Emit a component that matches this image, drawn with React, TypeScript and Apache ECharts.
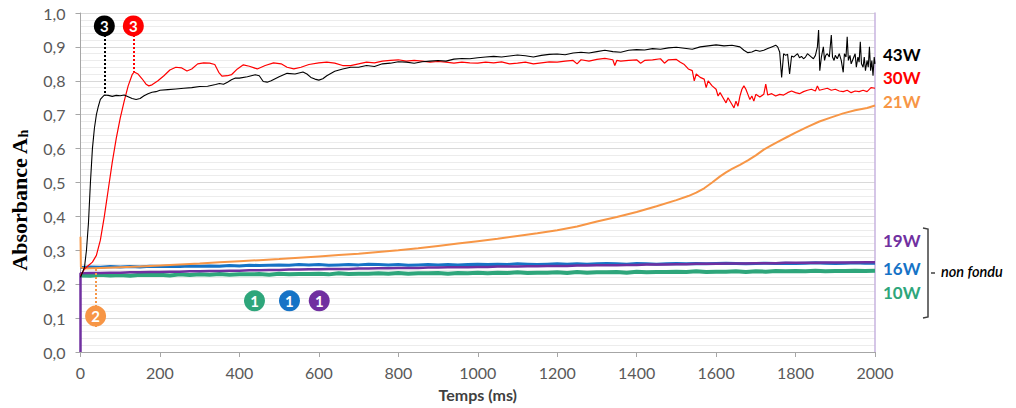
import React, { useEffect, useRef } from "react";
import * as echarts from "echarts";

// ---------- data ----------
const X_TICKS = [0, 200, 400, 600, 800, 1000, 1200, 1400, 1600, 1800, 2000];

const BLACK_43W: [number, number][] = [
  [0, 0.22], [5, 0.235], [10, 0.25], [15, 0.3], [20, 0.38], [25, 0.5], [30, 0.6], [35, 0.66], [40, 0.7], [45, 0.725],
  [50, 0.745], [55, 0.752], [60, 0.758], [70, 0.757], [80, 0.754], [90, 0.757], [100, 0.756], [110, 0.758], [120, 0.753],
  [130, 0.748], [140, 0.745], [150, 0.748], [160, 0.756], [170, 0.762], [180, 0.766], [190, 0.768], [200, 0.772],
  [220, 0.774], [240, 0.776], [260, 0.778], [280, 0.78], [300, 0.783], [320, 0.784], [340, 0.789], [350, 0.792],
  [360, 0.79], [370, 0.796], [380, 0.803], [390, 0.808], [400, 0.808], [420, 0.812], [440, 0.818], [450, 0.815],
  [460, 0.798], [470, 0.796], [480, 0.8], [500, 0.812], [520, 0.822], [540, 0.82], [550, 0.823], [560, 0.826],
  [570, 0.82], [580, 0.81], [590, 0.805], [600, 0.802], [610, 0.806], [620, 0.815], [640, 0.828], [660, 0.835],
  [680, 0.84], [700, 0.84], [720, 0.845], [740, 0.842], [760, 0.85], [780, 0.852], [800, 0.856], [820, 0.855],
  [840, 0.852], [860, 0.856], [880, 0.858], [900, 0.86], [920, 0.858], [940, 0.864], [960, 0.866], [980, 0.865],
  [1000, 0.868], [1020, 0.87], [1040, 0.872], [1060, 0.87], [1080, 0.873], [1100, 0.876], [1120, 0.874], [1140, 0.87],
  [1160, 0.875], [1180, 0.878], [1200, 0.879], [1220, 0.877], [1240, 0.882], [1260, 0.884], [1280, 0.882], [1300, 0.886],
  [1320, 0.89], [1340, 0.886], [1360, 0.884], [1380, 0.89], [1400, 0.892], [1420, 0.891], [1440, 0.895], [1460, 0.893],
  [1480, 0.897], [1500, 0.899], [1520, 0.896], [1540, 0.893], [1560, 0.9], [1580, 0.903], [1600, 0.906], [1620, 0.903],
  [1640, 0.905], [1660, 0.9], [1670, 0.89], [1680, 0.883], [1690, 0.885], [1700, 0.89], [1710, 0.887], [1720, 0.89],
  [1730, 0.895], [1740, 0.9], [1750, 0.905], [1755, 0.9], [1760, 0.885], [1765, 0.81], [1770, 0.88], [1775, 0.875],
  [1780, 0.878], [1785, 0.82], [1790, 0.873], [1795, 0.87], [1800, 0.875], [1805, 0.88], [1810, 0.868], [1815, 0.872],
  [1820, 0.865], [1825, 0.87], [1830, 0.88], [1835, 0.875], [1840, 0.87], [1845, 0.865], [1850, 0.875], [1855, 0.9],
  [1858, 0.95], [1861, 0.83], [1865, 0.87], [1870, 0.9], [1873, 0.86], [1876, 0.875], [1880, 0.88], [1885, 0.87],
  [1890, 0.935], [1893, 0.87], [1897, 0.86], [1900, 0.875], [1905, 0.865], [1910, 0.88], [1915, 0.86], [1920, 0.825],
  [1923, 0.88], [1927, 0.87], [1930, 0.93], [1933, 0.86], [1937, 0.875], [1940, 0.85], [1945, 0.865], [1950, 0.88],
  [1953, 0.84], [1957, 0.87], [1960, 0.855], [1963, 0.915], [1966, 0.85], [1970, 0.84], [1973, 0.87], [1976, 0.83],
  [1980, 0.86], [1983, 0.84], [1986, 0.9], [1989, 0.83], [1992, 0.86], [1995, 0.815], [1998, 0.87], [2000, 0.85],
];

const RED_30W: [number, number][] = [
  [0, 0.225], [5, 0.235], [10, 0.245], [20, 0.255], [30, 0.265], [40, 0.285], [50, 0.33], [60, 0.4], [70, 0.48],
  [80, 0.56], [90, 0.63], [100, 0.69], [110, 0.74], [120, 0.785], [130, 0.818], [135, 0.826], [145, 0.82], [155, 0.806],
  [165, 0.79], [172, 0.785], [180, 0.788], [195, 0.8], [210, 0.815], [225, 0.832], [240, 0.84], [255, 0.838],
  [268, 0.829], [280, 0.835], [295, 0.85], [310, 0.853], [325, 0.852], [338, 0.848], [348, 0.825], [356, 0.814],
  [370, 0.815], [380, 0.818], [395, 0.835], [410, 0.847], [425, 0.843], [445, 0.835], [465, 0.845], [486, 0.853],
  [505, 0.85], [520, 0.84], [537, 0.835], [555, 0.84], [575, 0.848], [600, 0.853], [620, 0.855], [640, 0.852],
  [660, 0.845], [680, 0.845], [700, 0.85], [720, 0.855], [740, 0.853], [760, 0.858], [780, 0.86], [800, 0.862],
  [820, 0.858], [840, 0.86], [860, 0.858], [880, 0.855], [900, 0.857], [920, 0.855], [940, 0.852], [960, 0.855],
  [980, 0.853], [1000, 0.852], [1020, 0.855], [1040, 0.853], [1060, 0.856], [1080, 0.85], [1100, 0.852], [1120, 0.855],
  [1140, 0.85], [1160, 0.853], [1180, 0.856], [1200, 0.855], [1220, 0.858], [1240, 0.86], [1250, 0.85], [1260, 0.862],
  [1280, 0.858], [1300, 0.863], [1320, 0.866], [1340, 0.862], [1345, 0.845], [1350, 0.86], [1360, 0.858], [1380, 0.86],
  [1400, 0.862], [1410, 0.852], [1420, 0.86], [1440, 0.862], [1460, 0.865], [1470, 0.852], [1480, 0.862], [1500, 0.863],
  [1510, 0.855], [1520, 0.848], [1530, 0.835], [1540, 0.83], [1545, 0.8], [1550, 0.82], [1560, 0.81], [1570, 0.805],
  [1575, 0.78], [1580, 0.8], [1590, 0.785], [1600, 0.775], [1605, 0.755], [1610, 0.765], [1620, 0.745], [1625, 0.735],
  [1630, 0.75], [1640, 0.73], [1645, 0.72], [1650, 0.74], [1655, 0.725], [1660, 0.755], [1665, 0.775], [1670, 0.785],
  [1675, 0.775], [1680, 0.76], [1685, 0.745], [1690, 0.755], [1695, 0.74], [1700, 0.76], [1710, 0.752], [1720, 0.76],
  [1725, 0.79], [1730, 0.758], [1740, 0.762], [1750, 0.755], [1760, 0.76], [1770, 0.758], [1780, 0.765], [1790, 0.77],
  [1800, 0.765], [1810, 0.762], [1820, 0.768], [1830, 0.772], [1840, 0.775], [1850, 0.77], [1855, 0.785], [1860, 0.772],
  [1870, 0.775], [1880, 0.778], [1890, 0.772], [1900, 0.775], [1910, 0.77], [1920, 0.768], [1930, 0.772], [1940, 0.765],
  [1950, 0.77], [1960, 0.768], [1970, 0.772], [1980, 0.768], [1990, 0.78], [2000, 0.778],
];

const ORANGE_21W: [number, number][] = [
  [0, 0.34], [1, 0.25], [10, 0.246], [50, 0.248], [100, 0.25], [150, 0.252], [200, 0.255], [250, 0.258], [300, 0.261],
  [350, 0.265], [400, 0.268], [450, 0.271], [500, 0.274], [550, 0.278], [600, 0.282], [650, 0.286], [700, 0.29],
  [750, 0.295], [800, 0.3], [850, 0.306], [900, 0.313], [950, 0.32], [1000, 0.327], [1050, 0.334], [1100, 0.342],
  [1150, 0.35], [1200, 0.359], [1250, 0.37], [1300, 0.385], [1350, 0.398], [1400, 0.413], [1450, 0.43], [1500, 0.448],
  [1530, 0.46], [1550, 0.47], [1570, 0.483], [1590, 0.5], [1610, 0.518], [1625, 0.53], [1640, 0.54], [1660, 0.552],
  [1680, 0.565], [1700, 0.58], [1720, 0.597], [1740, 0.61], [1760, 0.623], [1780, 0.635], [1800, 0.647], [1830, 0.664],
  [1860, 0.68], [1890, 0.692], [1920, 0.704], [1950, 0.713], [1980, 0.72], [2000, 0.727],
];

const FLAT_T = [
  0, 25, 50, 75, 100, 125, 150, 175, 200, 225,
  250, 275, 300, 325, 350, 375, 400, 425, 450, 475,
  500, 525, 550, 575, 600, 625, 650, 675, 700, 725,
  750, 775, 800, 825, 850, 875, 900, 925, 950, 975,
  1000, 1025, 1050, 1075, 1100, 1125, 1150, 1175, 1200, 1225,
  1250, 1275, 1300, 1325, 1350, 1375, 1400, 1425, 1450, 1475,
  1500, 1525, 1550, 1575, 1600, 1625, 1650, 1675, 1700, 1725,
  1750, 1775, 1800, 1825, 1850, 1875, 1900, 1925, 1950, 1975,
  2000,
];

const GREEN_10W = [
  0.226, 0.225, 0.228, 0.226, 0.227, 0.225, 0.228, 0.227, 0.228, 0.226,
  0.229, 0.227, 0.229, 0.228, 0.23, 0.228, 0.229, 0.229, 0.23, 0.228,
  0.231, 0.229, 0.23, 0.23, 0.231, 0.229, 0.232, 0.23, 0.231, 0.231,
  0.232, 0.231, 0.233, 0.231, 0.232, 0.232, 0.233, 0.231, 0.233, 0.232,
  0.234, 0.232, 0.234, 0.233, 0.235, 0.233, 0.234, 0.234, 0.235, 0.233,
  0.236, 0.234, 0.235, 0.235, 0.236, 0.234, 0.237, 0.235, 0.236, 0.236,
  0.237, 0.236, 0.238, 0.236, 0.237, 0.237, 0.238, 0.236, 0.238, 0.237,
  0.239, 0.238, 0.239, 0.238, 0.24, 0.238, 0.239, 0.239, 0.24, 0.239,
  0.24,
];

const BLUE_16W = [
  0.249, 0.251, 0.25, 0.252, 0.251, 0.252, 0.251, 0.253, 0.252, 0.253,
  0.252, 0.254, 0.253, 0.254, 0.253, 0.255, 0.254, 0.256, 0.255, 0.256,
  0.257, 0.256, 0.258, 0.257, 0.258, 0.256, 0.257, 0.258, 0.257, 0.259,
  0.258, 0.257, 0.258, 0.256, 0.257, 0.258, 0.257, 0.258, 0.257, 0.258,
  0.259, 0.258, 0.259, 0.258, 0.26, 0.259, 0.258, 0.259, 0.26, 0.259,
  0.26, 0.259, 0.26, 0.261, 0.26, 0.259, 0.261, 0.26, 0.259, 0.26,
  0.261, 0.26, 0.261, 0.26, 0.261, 0.262, 0.261, 0.26, 0.261, 0.262,
  0.261, 0.262, 0.261, 0.262, 0.263, 0.262, 0.261, 0.262, 0.263, 0.262,
  0.262,
];

const PURPLE_19W = [
  0.232, 0.233, 0.233, 0.234, 0.234, 0.235, 0.235, 0.236, 0.236, 0.237,
  0.237, 0.238, 0.238, 0.239, 0.239, 0.24, 0.24, 0.241, 0.241, 0.242,
  0.242, 0.243, 0.243, 0.244, 0.244, 0.245, 0.245, 0.245, 0.246, 0.246,
  0.247, 0.247, 0.248, 0.248, 0.248, 0.249, 0.249, 0.25, 0.25, 0.25,
  0.251, 0.251, 0.252, 0.252, 0.252, 0.253, 0.253, 0.254, 0.254, 0.254,
  0.255, 0.255, 0.256, 0.256, 0.256, 0.257, 0.257, 0.258, 0.258, 0.258,
  0.259, 0.259, 0.26, 0.26, 0.26, 0.261, 0.261, 0.261, 0.262, 0.262,
  0.262, 0.263, 0.263, 0.263, 0.263, 0.264, 0.264, 0.264, 0.264, 0.265,
  0.265,
];
const PURPLE_START: [number, number][] = [[0, 0.0]];

// annotation markers
const MARK_BLACK = { t: 60, y: 0.962, from: 0.935, to: 0.757, label: "3" };
const MARK_RED = { t: 133, y: 0.962, from: 0.935, to: 0.826, label: "3" };
const MARK_ORANGE = { t: 38, y: 0.106, from: 0.245, to: 0.072, label: "2" };
const MARK_GREEN = { t: 438, y: 0.151, label: "1" };
const MARK_BLUE = { t: 526, y: 0.151, label: "1" };
const MARK_PURPLE = { t: 601, y: 0.151, label: "1" };

const C_BLACK = "#000000";
const C_RED = "#ff0000";
const C_ORANGE = "#f79646";
const C_PURPLE = "#7030a0";
const C_BLUE = "#1673c6";
const C_GREEN = "#2ea67b";

const FONT = "Lato, 'Open Sans', sans-serif";

function zip(t: number[], v: number[]): [number, number][] {
  return t.map((x, i) => [x, v[i]]);
}

function markPoint(m: { t: number; y: number; label: string }, color: string) {
  return {
    silent: true,
    symbol: "circle",
    symbolSize: 21,
    itemStyle: { color },
    label: {
      show: true,
      position: "inside",
      formatter: m.label,
      color: "#ffffff",
      fontWeight: "bold",
      fontSize: 15,
      fontFamily: FONT,
    },
    data: [{ coord: [m.t, m.y] }],
  };
}

function markLine(m: { t: number; from: number; to: number }, color: string) {
  return {
    silent: true,
    symbol: ["none", "none"],
    label: { show: false },
    lineStyle: { color, type: "dotted", width: 2 },
    data: [[{ coord: [m.t, m.from] }, { coord: [m.t, m.to] }]],
  };
}

export default function App() {
  const ref = useRef<HTMLDivElement>(null);

  useEffect(() => {
    if (!ref.current) return;
    const chart = echarts.init(ref.current, undefined, { renderer: "svg" });

    const rightLabel = (text: string, y: number, color: string) => ({
      type: "text",
      left: 883,
      top: y - 10,
      style: { text, fill: color, font: `bold 17px ${FONT}` },
    });

    chart.setOption({
      animation: false,
      backgroundColor: "#ffffff",
      grid: { left: 80, right: 141, top: 13, bottom: 56 },
      xAxis: {
        type: "value",
        min: 0,
        max: 2000,
        interval: 200,
        name: "Temps (ms)",
        nameLocation: "middle",
        nameGap: 34,
        nameTextStyle: { fontFamily: FONT, fontWeight: "bold", fontSize: 16, color: "#404040" },
        axisLine: { show: true, lineStyle: { color: "#a6a6a6", width: 1 } },
        axisTick: { show: true, length: 5, lineStyle: { color: "#a6a6a6" } },
        axisLabel: {
          fontFamily: FONT,
          fontSize: 16,
          color: "#595959",
          margin: 12,
          customValues: X_TICKS,
          formatter: (v: number) => String(v),
        },
        splitLine: { show: false },
      },
      yAxis: [
        {
          type: "value",
          min: 0,
          max: 1,
          interval: 0.1,
          name: "{a|Absorbance A}{s|h}",
          nameLocation: "middle",
          nameGap: 50,
          nameTextStyle: {
            padding: [0, 36, 0, 0],
            rich: {
              a: { fontFamily: "'Liberation Serif', serif", fontWeight: "bold", fontSize: 22, color: "#000" },
              s: { fontFamily: "'Liberation Serif', serif", fontWeight: "bold", fontSize: 14, color: "#000", padding: [9, 0, 0, 0] },
            },
          },
          axisLine: { show: true, lineStyle: { color: "#a6a6a6", width: 1 } },
          axisTick: { show: true, length: 5, inside: false, lineStyle: { color: "#a6a6a6" } },
          axisLabel: {
            fontFamily: FONT,
            fontSize: 16,
            color: "#595959",
            margin: 15,
            formatter: (v: number) => v.toFixed(1).replace(".", ","),
          },
          splitLine: { show: true, lineStyle: { color: "#d9d9d9", width: 1 } },
          minorTick: { show: false, splitNumber: 5 },
          minorSplitLine: { show: true, lineStyle: { color: "#ececec", width: 1 } },
        },
        {
          type: "value",
          min: 0,
          max: 1,
          position: "right",
          axisLine: { show: true, lineStyle: { color: "#c7b3df", width: 1.5 } },
          axisTick: { show: false },
          axisLabel: { show: false },
          splitLine: { show: false },
        },
      ],
      series: [
        {
          name: "10W",
          type: "line",
          data: zip(FLAT_T, GREEN_10W),
          showSymbol: false,
          lineStyle: { color: C_GREEN, width: 4 },
          itemStyle: { color: C_GREEN },
          markPoint: markPoint(MARK_GREEN, C_GREEN),
          z: 2,
        },
        {
          name: "16W",
          type: "line",
          data: zip(FLAT_T, BLUE_16W),
          showSymbol: false,
          lineStyle: { color: C_BLUE, width: 3 },
          itemStyle: { color: C_BLUE },
          markPoint: markPoint(MARK_BLUE, C_BLUE),
          z: 3,
        },
        {
          name: "19W",
          type: "line",
          data: [...PURPLE_START, ...zip(FLAT_T, PURPLE_19W)],
          showSymbol: false,
          lineStyle: { color: C_PURPLE, width: 2.5 },
          itemStyle: { color: C_PURPLE },
          markPoint: markPoint(MARK_PURPLE, C_PURPLE),
          z: 4,
        },
        {
          name: "21W",
          type: "line",
          data: ORANGE_21W,
          showSymbol: false,
          lineStyle: { color: C_ORANGE, width: 2 },
          itemStyle: { color: C_ORANGE },
          markLine: markLine(MARK_ORANGE, C_ORANGE),
          markPoint: markPoint(MARK_ORANGE, C_ORANGE),
          z: 5,
        },
        {
          name: "30W",
          type: "line",
          data: RED_30W,
          showSymbol: false,
          lineStyle: { color: C_RED, width: 1.2 },
          itemStyle: { color: C_RED },
          markLine: markLine(MARK_RED, C_RED),
          markPoint: markPoint(MARK_RED, C_RED),
          z: 6,
        },
        {
          name: "43W",
          type: "line",
          data: BLACK_43W,
          showSymbol: false,
          lineStyle: { color: C_BLACK, width: 1.1 },
          itemStyle: { color: C_BLACK },
          markLine: markLine(MARK_BLACK, C_BLACK),
          markPoint: markPoint(MARK_BLACK, C_BLACK),
          z: 7,
        },
      ],
      graphic: [
        rightLabel("43W", 56, C_BLACK),
        rightLabel("30W", 79, C_RED),
        rightLabel("21W", 103, C_ORANGE),
        rightLabel("19W", 242, C_PURPLE),
        rightLabel("16W", 270, C_BLUE),
        rightLabel("10W", 294, C_GREEN),
        {
          type: "polyline",
          shape: { points: [[923, 228], [928, 229], [928, 317], [923, 318]] },
          style: { stroke: "#404040", lineWidth: 1.5, fill: "none" },
        },
        {
          type: "line",
          shape: { x1: 931, y1: 273, x2: 935, y2: 273 },
          style: { stroke: "#404040", lineWidth: 1.5 },
        },
        {
          type: "text",
          left: 941,
          top: 264,
          style: { text: "non fondu", fill: "#000", font: `italic 600 14.5px ${FONT}` },
        },
      ],
    });

    return () => chart.dispose();
  }, []);

  return (
    <div
      ref={ref}
      style={{ position: "absolute", left: 0, top: 0, width: 1016, height: 408 }}
    />
  );
}
